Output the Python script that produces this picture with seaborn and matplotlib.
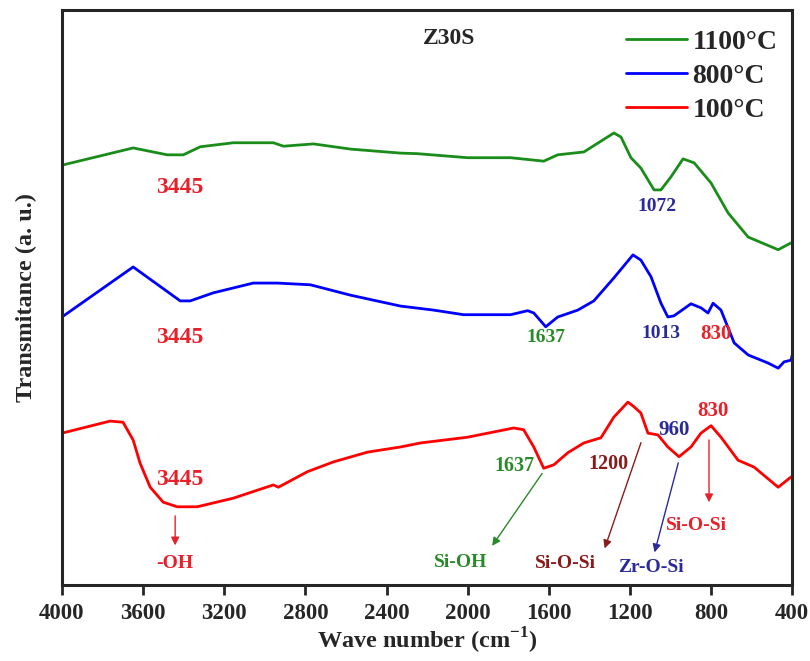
import matplotlib
matplotlib.use("Agg")
import matplotlib.pyplot as plt
import pandas as pd
import seaborn as sns

# FTIR spectra of Z30S (transmittance in arbitrary units)
wn_1100 = [4000, 3649, 3481, 3402, 3318, 3155, 2958, 2908, 2760, 2578, 2331, 2247,
           2000, 1788, 1625, 1556, 1427, 1279, 1244, 1195, 1146, 1081, 1047, 997,
           938, 883, 800, 716, 617, 469, 405]
tr_1100 = [73.0, 76.0, 74.8, 74.8, 76.2, 76.9, 76.9, 76.3, 76.7, 75.8, 75.1, 75.0,
           74.3, 74.3, 73.7, 74.8, 75.3, 78.6, 77.9, 74.3, 72.5, 68.7, 68.7, 71.0,
           74.1, 73.4, 69.9, 64.7, 60.5, 58.3, 59.5]

wn_800 = [4000, 3649, 3417, 3368, 3254, 3057, 2938, 2775, 2578, 2331, 2168, 2020,
          1788, 1704, 1674, 1615, 1556, 1457, 1378, 1279, 1185, 1146, 1096, 1047,
          1013, 983, 899, 850, 815, 790, 751, 686, 617, 519, 469, 440, 405, 400]
tr_800 = [46.6, 55.3, 49.4, 49.4, 50.8, 52.5, 52.5, 52.2, 50.4, 48.5, 47.8, 47.0,
          47.0, 47.7, 47.3, 44.9, 46.6, 47.8, 49.4, 53.4, 57.4, 56.5, 53.6, 49.0,
          46.6, 46.8, 48.9, 48.2, 47.3, 49.0, 47.8, 42.1, 40.0, 38.6, 37.7, 38.8, 39.1, 40.0]

wn_100 = [4000, 3763, 3699, 3649, 3615, 3565, 3501, 3432, 3333, 3155, 2958, 2933,
          2790, 2662, 2494, 2331, 2232, 2000, 1773, 1724, 1674, 1625, 1575, 1506,
          1427, 1343, 1279, 1210, 1180, 1146, 1111, 1062, 1013, 958, 899, 850,
          800, 751, 667, 588, 469, 405]
tr_100 = [26.4, 28.5, 28.3, 25.2, 21.2, 17.0, 14.4, 13.6, 13.6, 15.1, 17.4, 17.0,
          19.7, 21.4, 23.1, 24.0, 24.7, 25.7, 27.3, 27.0, 24.0, 20.3, 20.9, 23.0,
          24.7, 25.6, 29.2, 31.8, 31.0, 29.9, 26.4, 26.1, 24.0, 22.3, 24.0, 26.4,
          27.7, 25.7, 21.7, 20.5, 17.0, 18.8]

series_names = ["1100°C", "800°C", "100°C"]
series_colors = ["#1a8c1a", "#0000ff", "#ff0000"]
x_ticks = [4000, 3600, 3200, 2800, 2400, 2000, 1600, 1200, 800, 400]

frames = []
for name, wn, tr in zip(series_names, [wn_1100, wn_800, wn_100], [tr_1100, tr_800, tr_100]):
    frames.append(pd.DataFrame({"wn": wn, "tr": tr, "sample": name}))
df = pd.concat(frames, ignore_index=True)

sns.set_style("ticks")
plt.rcParams["font.family"] = ["Liberation Serif", "DejaVu Serif"]
plt.rcParams["font.weight"] = "bold"
plt.rcParams["mathtext.fontset"] = "custom"
plt.rcParams["mathtext.rm"] = "Liberation Serif:bold"
plt.rcParams["mathtext.bf"] = "Liberation Serif:bold"

fig = plt.figure(figsize=(8.1, 6.61), dpi=100)
ax = fig.add_axes([0.0765, 0.115, 0.9015, 0.87])

sns.lineplot(data=df, x="wn", y="tr", hue="sample", hue_order=series_names,
             palette=series_colors, sort=False, estimator=None, linewidth=2.0, ax=ax)

ax.set_xlim(4000, 400)
ax.set_ylim(0, 100)
ax.set_xticks(x_ticks)
ax.set_yticks([])
ax.tick_params(axis="x", direction="out", length=7, width=2, labelsize=16.5, pad=6)
for lbl in ax.get_xticklabels():
    lbl.set_fontweight("bold")
for sp in ax.spines.values():
    sp.set_linewidth(2.2)
    sp.set_visible(True)
ax.set_xlabel(r"Wave number (cm$^{-1}$)", fontsize=17.5, fontweight="bold", labelpad=1)
ax.set_ylabel("Transmitance (a. u.)", fontsize=17.5, fontweight="bold", labelpad=18)

leg = ax.legend(loc="upper right", bbox_to_anchor=(0.995, 0.985), frameon=False,
                handlelength=2.2, handletextpad=0.2, labelspacing=0.3, borderaxespad=0.0,
                prop={"size": 20, "weight": "bold"})

ax.text(2094, 95.1, "Z30S", ha="center", va="center", fontsize=17, fontweight="bold")

red = "#e8202a"
dblue = "#2a2a9a"
dred = "#8b1a1a"
green = "#2a8a2a"
peak_labels = [
    (3417, 69.2, "3445", red, 17), (3417, 43.1, "3445", red, 17), (3417, 18.3, "3445", red, 17),
    (1067, 65.9, "1072", dblue, 14),
    (1615, 43.1, "1637", green, 14), (1047, 43.7, "1013", dblue, 14), (775, 43.7, "830", red, 15),
    (1768, 20.7, "1637", green, 14.5), (1304, 21.0, "1200", dred, 14.5), (983, 27.0, "960", dblue, 15),
    (790, 30.3, "830", red, 15),
]
for x, y, s, c, fs in peak_labels:
    ax.text(x, y, s, ha="center", va="center", fontsize=fs, fontweight="bold", color=c)

arrows = [
    ((1625, 19.8), (1887, 6.4), green),
    ((1141, 25.2), (1329, 5.9), dred),
    ((958, 21.7), (1082, 5.2), dblue),
    ((810, 25.7), (810, 13.9), red),
    ((3442, 12.5), (3442, 6.4), red),
]
for start, end, c in arrows:
    ax.annotate("", xy=end, xytext=start,
                arrowprops=dict(arrowstyle="-|>", color=c, lw=1.0, mutation_scale=12))

group_labels = [
    (2035, 3.9, "Si-OH", green), (1516, 3.8, "Si-O-Si", dred),
    (1096, 3.0, "Zr-O-Si", dblue), (874, 10.4, "Si-O-Si", red), (3442, 3.8, "-OH", red),
]
for x, y, s, c in group_labels:
    ax.text(x, y, s, ha="center", va="center", fontsize=14, fontweight="bold", color=c)

fig.savefig("out.png", dpi=100)
plt.close(fig)
